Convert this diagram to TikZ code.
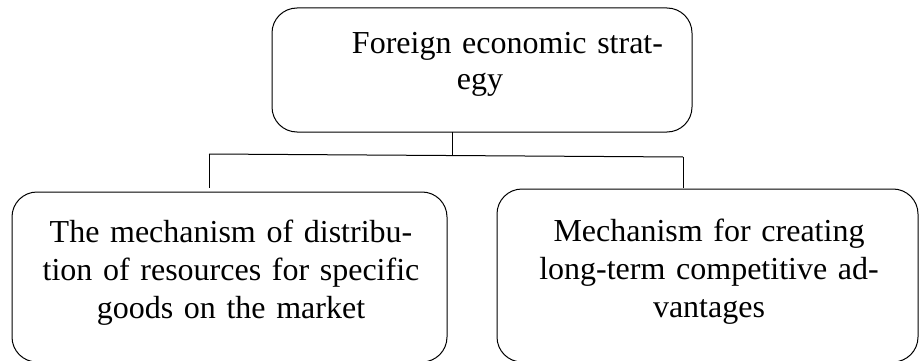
\documentclass[tikz,border=0pt]{standalone}
\usepackage{fontspec}
\setmainfont{Liberation Serif}
\begin{document}
\begin{tikzpicture}[x=1pt,y=-1pt,
  box/.style={draw=black, line width=1pt, rounded corners=25pt, rectangle,
    inner sep=0pt, outer sep=0pt},
  label/.style={anchor=base, inner sep=0pt, text width=410pt, align=center,
    font=\fontsize{32}{38}\selectfont},
  link/.style={draw=black, line width=1pt}]
\useasboundingbox (0,0) rectangle (919,361);
\begin{scope}
\clip (0,0) rectangle (919,361);
% boxes
\node[box, minimum width=420pt, minimum height=124pt] (top) at (482,70) {};
\node[box, minimum width=435pt, minimum height=170pt] (left) at (229.5,277) {};
\node[box, minimum width=421pt, minimum height=173pt] (right) at (707.5,275.5) {};
% texts
\node[label, font=\fontsize{32}{36}\selectfont] (toptext) at (480,54) {\hspace*{55pt}Foreign economic strat-\\egy};
\node[label] (lefttext) at (231,242) {The mechanism of distribu-\\tion of resources for specific\\goods on the market};
\node[label] (righttext) at (709,241) {Mechanism for creating\\long-term competitive ad-\\vantages};
% connector
\coordinate (jm) at (452,155.5);
\coordinate (jl) at (209,154);
\coordinate (jr) at (683,157);
\coordinate (lend) at (209,188);
\coordinate (rend) at (683,188);
\draw[link] (top.south -| jm) -- (jm);
\draw[link] (jl) -- (jr);
\draw[link] (jl) -- (lend);
\draw[link] (jr) -- (rend);
\end{scope}
\end{tikzpicture}
\end{document}
